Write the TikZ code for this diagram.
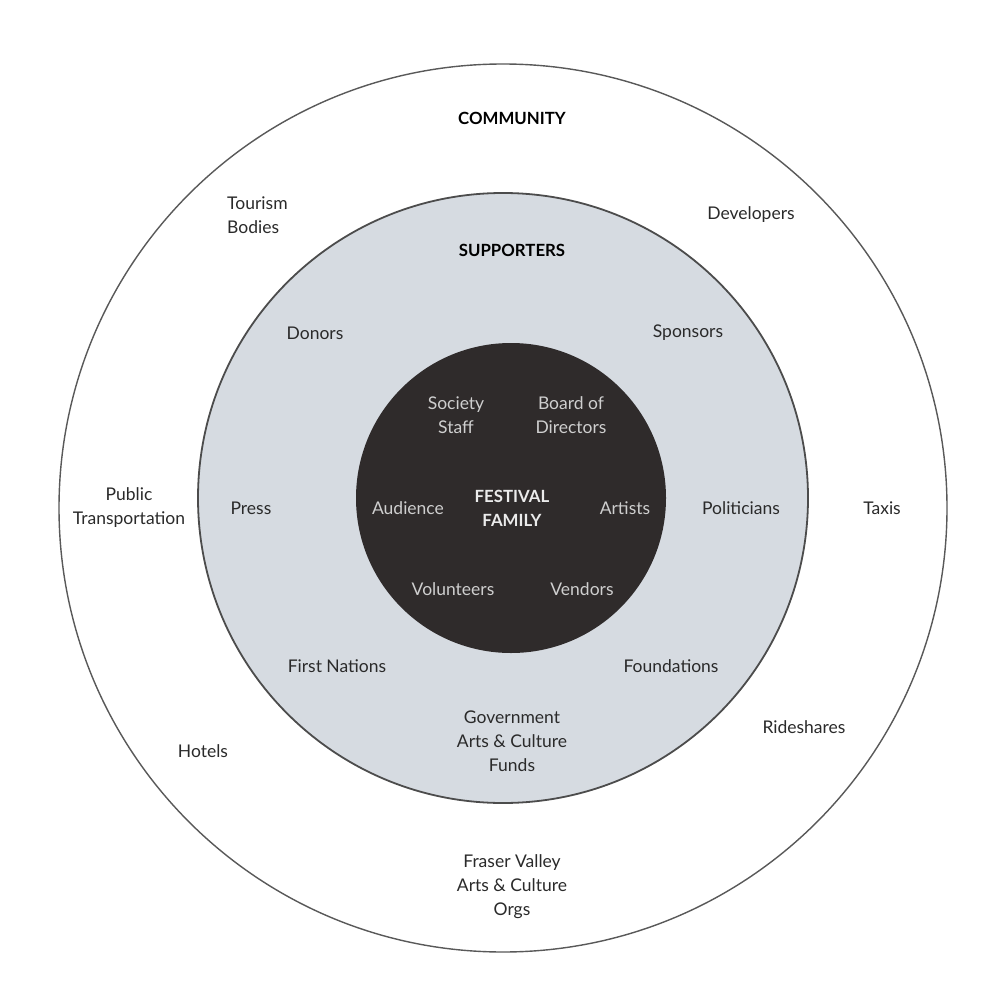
\documentclass[tikz,border=0pt]{standalone}
\usepackage{fontspec}
\setmainfont{Lato}
\definecolor{midfill}{HTML}{D6DBE1}
\definecolor{darkfill}{HTML}{2F2B2B}
\definecolor{txt}{HTML}{2A2A2A}
\definecolor{lighttxt}{HTML}{CFCFCF}
\begin{document}
\begin{tikzpicture}[x=1pt,y=-1pt,
  lbl/.style={align=center,text=txt,font=\fontsize{17.5}{24}\selectfont,inner sep=0pt},
  ttl/.style={align=center,text=black,font=\fontsize{16.8}{24}\selectfont\bfseries,inner sep=0pt},
  inl/.style={align=center,text=lighttxt,font=\fontsize{17.5}{24}\selectfont,inner sep=0pt},
  intl/.style={align=center,text=white!92!black,font=\fontsize{16.8}{24}\selectfont\bfseries,inner sep=0pt}]
\useasboundingbox[fill=white] (0,0) rectangle (1000,1000);
\draw[draw=black!65,line width=1.4pt] (503,508) circle[radius=444];
\draw[draw=black!70,fill=midfill,line width=1.8pt] (503,498) circle[radius=305];
\fill[darkfill] (511,498) circle[radius=155];
\node[ttl] (community) at (512,118) {COMMUNITY};
\node[ttl] (supporters) at (512,250) {SUPPORTERS};
\node[lbl,align=left,anchor=west] (tourism) at (227,215) {Tourism\\Bodies};
\node[lbl] (developers) at (751,215) {Developers};
\node[lbl] (donors) at (315,333) {Donors};
\node[lbl] (sponsors) at (688,333) {Sponsors};
\node[inl] (society) at (456,415) {Society\\Staff};
\node[inl] (board) at (571,415) {Board of\\Directors};
\node[lbl] (public) at (129,508) {Public\\Transportation};
\node[lbl] (press) at (251,508) {Press};
\node[inl] (audience) at (408,508) {Audience};
\node[intl] (festival) at (512,508) {FESTIVAL\\FAMILY};
\node[inl] (artists) at (625,508) {Artists};
\node[lbl] (politicians) at (741,508) {Politicians};
\node[lbl] (taxis) at (882,508) {Taxis};
\node[inl] (volunteers) at (453,589) {Volunteers};
\node[inl] (vendors) at (582,589) {Vendors};
\node[lbl] (firstnations) at (337,666) {First Nations};
\node[lbl] (foundations) at (671,666) {Foundations};
\node[lbl] (government) at (512,741) {Government\\Arts \& Culture\\Funds};
\node[lbl] (rideshares) at (804,727) {Rideshares};
\node[lbl] (hotels) at (203,751) {Hotels};
\node[lbl] (fraser) at (512,887) {Fraser Valley\\Arts \& Culture\\Orgs};
\end{tikzpicture}
\end{document}
